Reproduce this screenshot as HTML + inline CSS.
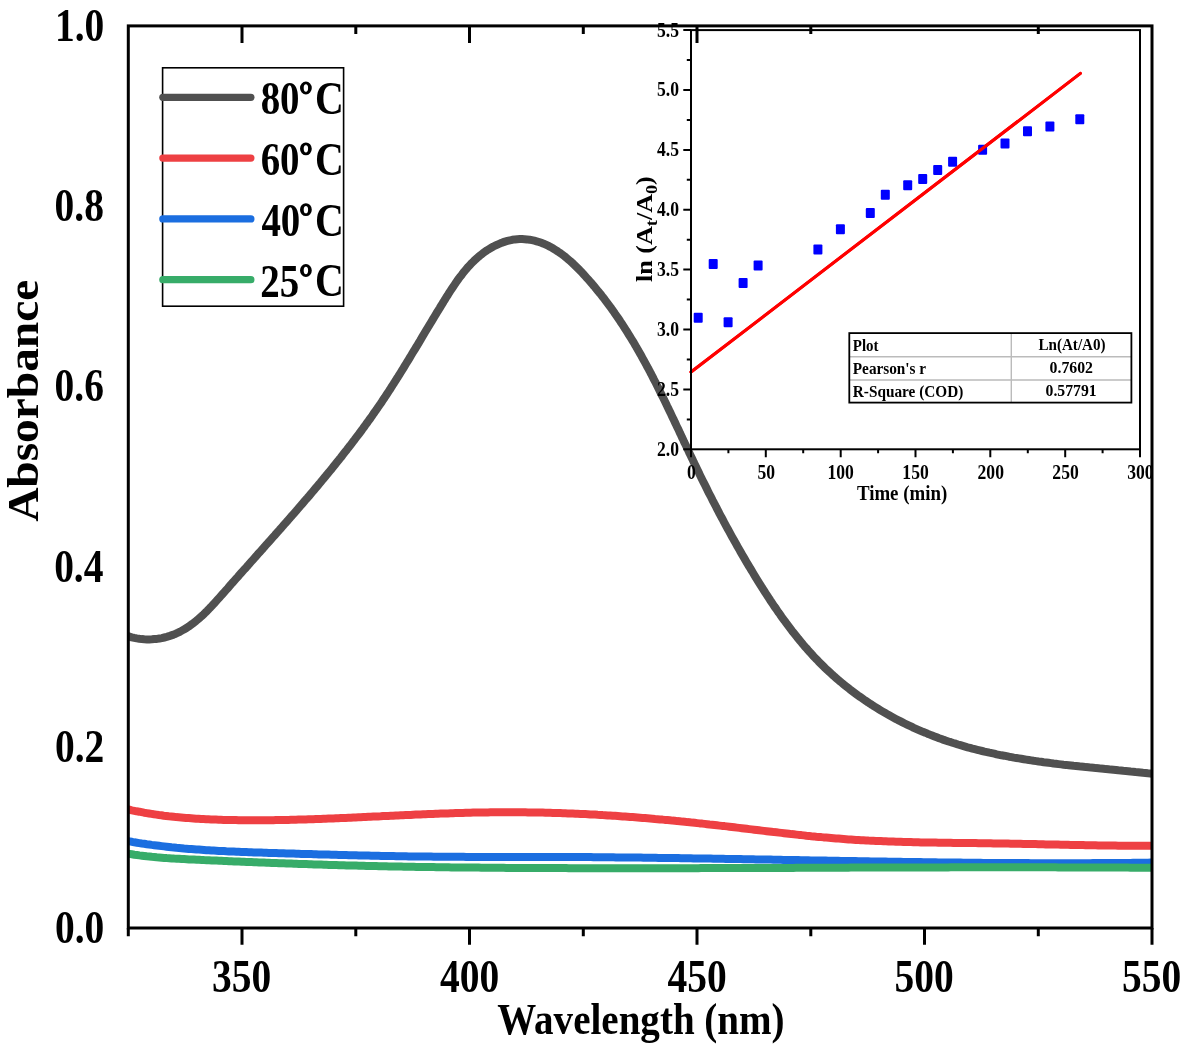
<!DOCTYPE html><html><head><meta charset="utf-8"><title>Absorbance</title><style>html,body{margin:0;padding:0;background:#fff;width:1181px;height:1049px;overflow:hidden}svg{display:block}text{font-family:"Liberation Serif",serif;font-weight:bold;fill:#000}svg{will-change:transform}</style></head><body>
<svg width="1181" height="1049" viewBox="0 0 1181 1049">
<rect width="1181" height="1049" fill="#fff"/>
<defs><clipPath id="pc"><rect x="128.3" y="0" width="1023.7" height="1049"/></clipPath></defs>
<g fill="none" stroke-width="8.0" stroke-linejoin="round" clip-path="url(#pc)">
<path d="M127.0,635.7 L129.4,636.6 L131.8,637.3 L134.3,637.9 L136.8,638.4 L139.3,638.8 L141.8,639.1 L144.3,639.3 L146.9,639.4 L149.4,639.4 L151.9,639.3 L154.4,639.1 L156.9,638.9 L159.4,638.5 L161.8,638.1 L164.3,637.5 L166.7,636.9 L169.0,636.2 L171.3,635.4 L173.6,634.6 L175.8,633.7 L178.0,632.7 L180.2,631.6 L182.3,630.4 L184.4,629.2 L186.4,628.0 L188.5,626.7 L190.4,625.3 L192.4,623.8 L194.3,622.3 L196.2,620.8 L198.1,619.2 L200.0,617.6 L201.8,616.0 L203.6,614.3 L205.4,612.5 L207.2,610.8 L208.9,609.0 L210.7,607.2 L212.4,605.3 L214.1,603.5 L215.8,601.6 L217.5,599.7 L219.2,597.8 L220.9,595.9 L222.6,594.0 L224.3,592.1 L226.0,590.2 L227.7,588.3 L229.3,586.4 L231.0,584.4 L232.7,582.5 L234.4,580.6 L236.1,578.7 L237.8,576.8 L239.4,574.9 L241.1,573.0 L242.8,571.1 L244.5,569.2 L246.2,567.4 L247.9,565.5 L249.5,563.6 L251.2,561.7 L252.9,559.8 L254.6,557.9 L256.3,556.0 L257.9,554.1 L259.6,552.3 L261.3,550.4 L263.0,548.5 L264.6,546.6 L266.3,544.7 L268.0,542.8 L269.7,541.0 L271.3,539.1 L273.0,537.2 L274.7,535.3 L276.3,533.4 L278.0,531.6 L279.7,529.7 L281.3,527.8 L283.0,525.9 L284.6,524.0 L286.3,522.2 L287.9,520.3 L289.6,518.4 L291.2,516.5 L292.9,514.6 L294.5,512.8 L296.2,510.9 L297.8,509.0 L299.4,507.1 L301.1,505.2 L302.7,503.3 L304.3,501.4 L305.9,499.5 L307.6,497.7 L309.2,495.8 L310.8,493.9 L312.4,492.0 L314.0,490.1 L315.6,488.2 L317.2,486.3 L318.8,484.4 L320.4,482.5 L322.0,480.5 L323.6,478.6 L325.2,476.7 L326.7,474.8 L328.3,472.9 L329.9,471.0 L331.5,469.1 L333.0,467.1 L334.6,465.2 L336.1,463.3 L337.7,461.3 L339.2,459.4 L340.8,457.5 L342.3,455.5 L343.8,453.6 L345.4,451.6 L346.9,449.7 L348.4,447.7 L349.9,445.8 L351.4,443.8 L352.9,441.8 L354.4,439.9 L355.9,437.9 L357.4,435.9 L358.9,434.0 L360.4,432.0 L361.9,430.0 L363.3,428.0 L364.8,426.0 L366.2,424.0 L367.7,422.0 L369.1,420.0 L370.6,418.0 L372.0,416.0 L373.4,413.9 L374.8,411.9 L376.3,409.9 L377.7,407.8 L379.1,405.8 L380.5,403.8 L381.9,401.7 L383.2,399.6 L384.6,397.6 L386.0,395.5 L387.3,393.5 L388.7,391.4 L390.1,389.3 L391.4,387.2 L392.7,385.1 L394.1,383.0 L395.4,380.9 L396.7,378.8 L398.1,376.7 L399.4,374.6 L400.7,372.5 L402.0,370.4 L403.3,368.3 L404.6,366.1 L405.9,364.0 L407.2,361.9 L408.5,359.8 L409.8,357.6 L411.1,355.5 L412.4,353.3 L413.7,351.2 L415.0,349.1 L416.3,346.9 L417.6,344.8 L418.9,342.6 L420.2,340.5 L421.4,338.3 L422.7,336.2 L424.0,334.0 L425.3,331.8 L426.6,329.7 L427.9,327.5 L429.2,325.4 L430.5,323.2 L431.8,321.1 L433.1,318.9 L434.4,316.7 L435.7,314.6 L437.0,312.4 L438.3,310.3 L439.7,308.1 L441.0,305.9 L442.3,303.8 L443.6,301.6 L445.0,299.5 L446.3,297.3 L447.7,295.2 L449.0,293.0 L450.4,290.9 L451.8,288.8 L453.2,286.7 L454.6,284.6 L456.0,282.5 L457.5,280.4 L458.9,278.4 L460.4,276.4 L462.0,274.4 L463.5,272.4 L465.1,270.5 L466.7,268.6 L468.3,266.7 L470.0,264.9 L471.7,263.1 L473.5,261.4 L475.2,259.7 L477.1,258.0 L479.0,256.4 L480.9,254.8 L482.8,253.3 L484.9,251.8 L486.9,250.4 L489.0,249.1 L491.2,247.8 L493.4,246.5 L495.7,245.4 L498.0,244.3 L500.3,243.3 L502.7,242.4 L505.0,241.6 L507.4,240.9 L509.9,240.3 L512.3,239.8 L514.8,239.4 L517.2,239.2 L519.7,239.1 L522.1,239.1 L524.6,239.2 L527.0,239.4 L529.5,239.7 L531.9,240.2 L534.3,240.7 L536.6,241.3 L539.0,242.0 L541.3,242.8 L543.6,243.7 L545.8,244.7 L548.0,245.7 L550.2,246.8 L552.4,248.0 L554.5,249.3 L556.6,250.6 L558.6,252.0 L560.7,253.4 L562.7,254.9 L564.7,256.4 L566.6,258.0 L568.6,259.7 L570.5,261.3 L572.4,263.0 L574.3,264.8 L576.1,266.6 L577.9,268.4 L579.7,270.2 L581.5,272.1 L583.3,274.0 L585.0,275.9 L586.7,277.8 L588.4,279.7 L590.1,281.6 L591.8,283.5 L593.4,285.5 L595.1,287.4 L596.7,289.4 L598.3,291.4 L599.9,293.3 L601.5,295.3 L603.0,297.3 L604.6,299.3 L606.1,301.3 L607.6,303.3 L609.1,305.3 L610.6,307.3 L612.0,309.4 L613.5,311.4 L614.9,313.5 L616.3,315.5 L617.8,317.6 L619.2,319.6 L620.5,321.7 L621.9,323.8 L623.3,325.9 L624.6,328.0 L626.0,330.1 L627.3,332.2 L628.6,334.3 L629.9,336.4 L631.2,338.5 L632.5,340.6 L633.8,342.7 L635.0,344.9 L636.3,347.0 L637.5,349.2 L638.8,351.3 L640.0,353.5 L641.2,355.6 L642.4,357.8 L643.6,359.9 L644.8,362.1 L646.0,364.3 L647.1,366.5 L648.3,368.6 L649.5,370.8 L650.6,373.0 L651.8,375.2 L652.9,377.4 L654.0,379.6 L655.2,381.8 L656.3,384.0 L657.4,386.2 L658.5,388.4 L659.6,390.6 L660.7,392.9 L661.8,395.1 L662.9,397.3 L664.0,399.5 L665.1,401.7 L666.2,404.0 L667.2,406.2 L668.3,408.4 L669.4,410.7 L670.5,412.9 L671.5,415.1 L672.6,417.4 L673.7,419.6 L674.7,421.9 L675.8,424.1 L676.8,426.3 L677.9,428.6 L679.0,430.8 L680.0,433.1 L681.1,435.3 L682.1,437.6 L683.2,439.8 L684.2,442.1 L685.3,444.3 L686.4,446.6 L687.4,448.8 L688.5,451.0 L689.5,453.3 L690.6,455.5 L691.7,457.8 L692.8,460.0 L693.8,462.3 L694.9,464.5 L696.0,466.8 L697.1,469.0 L698.2,471.2 L699.2,473.5 L700.3,475.7 L701.4,478.0 L702.5,480.2 L703.6,482.4 L704.8,484.7 L705.9,486.9 L707.0,489.1 L708.1,491.4 L709.2,493.6 L710.4,495.8 L711.5,498.0 L712.6,500.3 L713.8,502.5 L714.9,504.7 L716.1,506.9 L717.2,509.1 L718.4,511.4 L719.5,513.6 L720.7,515.8 L721.9,518.0 L723.1,520.2 L724.2,522.4 L725.4,524.6 L726.6,526.8 L727.8,529.0 L729.0,531.2 L730.2,533.4 L731.4,535.6 L732.6,537.8 L733.9,540.0 L735.1,542.2 L736.3,544.3 L737.5,546.5 L738.8,548.7 L740.0,550.9 L741.3,553.1 L742.5,555.2 L743.8,557.4 L745.1,559.6 L746.3,561.7 L747.6,563.9 L748.9,566.1 L750.2,568.2 L751.5,570.4 L752.8,572.5 L754.1,574.7 L755.4,576.8 L756.7,579.0 L758.0,581.1 L759.4,583.3 L760.7,585.4 L762.0,587.5 L763.4,589.6 L764.7,591.8 L766.1,593.9 L767.5,596.0 L768.9,598.1 L770.2,600.2 L771.6,602.3 L773.0,604.4 L774.4,606.5 L775.9,608.5 L777.3,610.6 L778.7,612.7 L780.2,614.7 L781.6,616.8 L783.1,618.8 L784.6,620.8 L786.1,622.9 L787.6,624.9 L789.1,626.9 L790.6,628.9 L792.1,630.9 L793.6,632.8 L795.2,634.8 L796.8,636.8 L798.3,638.7 L799.9,640.6 L801.5,642.5 L803.1,644.5 L804.7,646.4 L806.4,648.2 L808.0,650.1 L809.7,652.0 L811.4,653.8 L813.0,655.7 L814.7,657.5 L816.5,659.3 L818.2,661.1 L819.9,662.8 L821.7,664.6 L823.5,666.4 L825.2,668.1 L827.0,669.8 L828.9,671.5 L830.7,673.2 L832.5,674.9 L834.4,676.5 L836.3,678.2 L838.1,679.8 L840.0,681.4 L842.0,683.0 L843.9,684.6 L845.8,686.1 L847.8,687.7 L849.7,689.2 L851.7,690.7 L853.7,692.2 L855.7,693.7 L857.7,695.2 L859.7,696.6 L861.8,698.1 L863.8,699.5 L865.9,700.9 L868.0,702.3 L870.0,703.7 L872.1,705.0 L874.2,706.4 L876.3,707.7 L878.5,709.0 L880.6,710.3 L882.8,711.6 L884.9,712.8 L887.1,714.1 L889.2,715.3 L891.4,716.5 L893.6,717.7 L895.8,718.9 L898.0,720.1 L900.2,721.2 L902.5,722.4 L904.7,723.5 L907.0,724.6 L909.2,725.6 L911.5,726.7 L913.7,727.8 L916.0,728.8 L918.3,729.8 L920.6,730.8 L922.9,731.8 L925.2,732.7 L927.5,733.7 L929.8,734.6 L932.1,735.5 L934.5,736.4 L936.8,737.3 L939.1,738.2 L941.5,739.0 L943.8,739.9 L946.2,740.7 L948.5,741.5 L950.9,742.2 L953.3,743.0 L955.7,743.7 L958.0,744.5 L960.4,745.2 L962.8,745.9 L965.2,746.6 L967.6,747.3 L970.0,747.9 L972.4,748.6 L974.8,749.2 L977.3,749.8 L979.7,750.4 L982.1,751.0 L984.5,751.6 L987.0,752.1 L989.4,752.7 L991.8,753.2 L994.3,753.7 L996.7,754.3 L999.2,754.8 L1001.6,755.3 L1004.1,755.7 L1006.5,756.2 L1009.0,756.7 L1011.5,757.1 L1013.9,757.6 L1016.4,758.0 L1018.9,758.4 L1021.3,758.8 L1023.8,759.2 L1026.3,759.6 L1028.8,760.0 L1031.2,760.4 L1033.7,760.8 L1036.2,761.1 L1038.7,761.5 L1041.2,761.8 L1043.7,762.2 L1046.2,762.5 L1048.6,762.8 L1051.1,763.1 L1053.6,763.5 L1056.1,763.8 L1058.6,764.1 L1061.1,764.4 L1063.6,764.7 L1066.1,764.9 L1068.6,765.2 L1071.1,765.5 L1073.6,765.8 L1076.1,766.0 L1078.6,766.3 L1081.0,766.6 L1083.5,766.8 L1086.0,767.1 L1088.5,767.3 L1091.0,767.6 L1093.5,767.8 L1096.0,768.1 L1098.5,768.3 L1101.0,768.6 L1103.5,768.8 L1105.9,769.1 L1108.4,769.3 L1110.9,769.6 L1113.4,769.8 L1115.9,770.0 L1118.3,770.3 L1120.8,770.5 L1123.3,770.8 L1125.8,771.0 L1128.2,771.2 L1130.7,771.5 L1133.2,771.7 L1135.6,772.0 L1138.1,772.2 L1140.5,772.5 L1143.0,772.8 L1145.4,773.0 L1147.9,773.3 L1150.3,773.5 L1152.8,773.8" stroke="#505050"/>
<path d="M127.0,809.2 L129.4,809.7 L131.8,810.3 L134.3,810.8 L136.7,811.3 L139.2,811.7 L141.6,812.2 L144.1,812.7 L146.6,813.1 L149.0,813.5 L151.5,813.9 L153.9,814.3 L156.4,814.6 L158.9,815.0 L161.4,815.3 L163.8,815.7 L166.3,816.0 L168.8,816.3 L171.2,816.5 L173.7,816.8 L176.2,817.1 L178.7,817.3 L181.2,817.5 L183.6,817.7 L186.1,817.9 L188.6,818.1 L191.1,818.3 L193.6,818.5 L196.1,818.7 L198.6,818.8 L201.0,819.0 L203.5,819.1 L206.0,819.2 L208.5,819.3 L211.0,819.4 L213.5,819.5 L216.0,819.6 L218.5,819.7 L221.0,819.8 L223.5,819.9 L226.0,819.9 L228.5,820.0 L231.0,820.1 L233.5,820.1 L236.0,820.1 L238.4,820.2 L240.9,820.2 L243.4,820.2 L245.9,820.3 L248.4,820.3 L250.9,820.3 L253.4,820.3 L255.9,820.3 L258.4,820.3 L260.9,820.3 L263.4,820.3 L265.9,820.2 L268.4,820.2 L270.9,820.2 L273.4,820.2 L275.9,820.1 L278.4,820.1 L280.9,820.0 L283.4,820.0 L285.9,819.9 L288.4,819.9 L290.9,819.8 L293.4,819.8 L295.9,819.7 L298.4,819.6 L300.9,819.6 L303.4,819.5 L305.9,819.4 L308.4,819.3 L310.8,819.3 L313.3,819.2 L315.8,819.1 L318.3,819.0 L320.8,818.9 L323.3,818.8 L325.8,818.7 L328.3,818.6 L330.8,818.5 L333.3,818.4 L335.8,818.3 L338.3,818.2 L340.8,818.1 L343.3,818.0 L345.8,817.9 L348.3,817.8 L350.8,817.7 L353.3,817.5 L355.8,817.4 L358.3,817.3 L360.8,817.2 L363.3,817.1 L365.7,817.0 L368.2,816.8 L370.7,816.7 L373.2,816.6 L375.7,816.5 L378.2,816.4 L380.7,816.3 L383.2,816.1 L385.7,816.0 L388.2,815.9 L390.7,815.8 L393.2,815.7 L395.7,815.5 L398.2,815.4 L400.7,815.3 L403.1,815.2 L405.6,815.1 L408.1,815.0 L410.6,814.9 L413.1,814.7 L415.6,814.6 L418.1,814.5 L420.6,814.4 L423.1,814.3 L425.6,814.2 L428.1,814.1 L430.6,814.0 L433.1,813.9 L435.5,813.8 L438.0,813.7 L440.5,813.6 L443.0,813.5 L445.5,813.4 L448.0,813.4 L450.5,813.3 L453.0,813.2 L455.5,813.1 L458.0,813.0 L460.5,813.0 L463.0,812.9 L465.5,812.8 L468.0,812.8 L470.5,812.7 L473.0,812.6 L475.4,812.6 L477.9,812.5 L480.4,812.5 L482.9,812.5 L485.4,812.4 L487.9,812.4 L490.4,812.3 L492.9,812.3 L495.4,812.3 L497.9,812.3 L500.4,812.3 L502.9,812.3 L505.4,812.2 L507.9,812.2 L510.4,812.2 L512.9,812.2 L515.4,812.3 L517.9,812.3 L520.4,812.3 L522.9,812.3 L525.4,812.3 L527.9,812.4 L530.4,812.4 L532.9,812.4 L535.4,812.5 L537.8,812.5 L540.3,812.6 L542.8,812.6 L545.3,812.7 L547.8,812.7 L550.3,812.8 L552.8,812.9 L555.3,812.9 L557.8,813.0 L560.3,813.1 L562.8,813.2 L565.3,813.3 L567.8,813.4 L570.3,813.5 L572.8,813.6 L575.3,813.7 L577.8,813.8 L580.3,813.9 L582.8,814.0 L585.3,814.1 L587.8,814.2 L590.3,814.4 L592.8,814.5 L595.2,814.6 L597.7,814.8 L600.2,814.9 L602.7,815.1 L605.2,815.2 L607.7,815.4 L610.2,815.5 L612.7,815.7 L615.2,815.8 L617.7,816.0 L620.2,816.2 L622.6,816.4 L625.1,816.5 L627.6,816.7 L630.1,816.9 L632.6,817.1 L635.1,817.3 L637.6,817.5 L640.1,817.7 L642.6,817.9 L645.0,818.1 L647.5,818.3 L650.0,818.5 L652.5,818.7 L655.0,819.0 L657.5,819.2 L660.0,819.4 L662.4,819.6 L664.9,819.9 L667.4,820.1 L669.9,820.3 L672.4,820.6 L674.9,820.8 L677.3,821.1 L679.8,821.3 L682.3,821.6 L684.8,821.8 L687.3,822.1 L689.7,822.3 L692.2,822.6 L694.7,822.8 L697.2,823.1 L699.7,823.4 L702.2,823.6 L704.6,823.9 L707.1,824.2 L709.6,824.5 L712.1,824.7 L714.6,825.0 L717.0,825.3 L719.5,825.6 L722.0,825.9 L724.5,826.1 L727.0,826.4 L729.4,826.7 L731.9,827.0 L734.4,827.3 L736.9,827.6 L739.3,827.9 L741.8,828.2 L744.3,828.5 L746.8,828.8 L749.3,829.1 L751.7,829.4 L754.2,829.7 L756.7,830.0 L759.2,830.3 L761.7,830.6 L764.1,830.9 L766.6,831.2 L769.1,831.5 L771.6,831.8 L774.1,832.1 L776.5,832.3 L779.0,832.6 L781.5,832.9 L784.0,833.2 L786.5,833.5 L788.9,833.8 L791.4,834.1 L793.9,834.3 L796.4,834.6 L798.9,834.9 L801.3,835.1 L803.8,835.4 L806.3,835.7 L808.8,835.9 L811.3,836.2 L813.8,836.4 L816.2,836.7 L818.7,836.9 L821.2,837.1 L823.7,837.4 L826.2,837.6 L828.7,837.8 L831.1,838.0 L833.6,838.2 L836.1,838.4 L838.6,838.6 L841.1,838.8 L843.6,839.0 L846.1,839.2 L848.5,839.4 L851.0,839.5 L853.5,839.7 L856.0,839.9 L858.5,840.0 L861.0,840.2 L863.5,840.3 L866.0,840.4 L868.5,840.6 L871.0,840.7 L873.4,840.8 L875.9,840.9 L878.4,841.0 L880.9,841.1 L883.4,841.2 L885.9,841.3 L888.4,841.4 L890.9,841.5 L893.4,841.6 L895.9,841.7 L898.4,841.8 L900.9,841.8 L903.4,841.9 L905.9,842.0 L908.4,842.1 L910.9,842.1 L913.4,842.2 L915.9,842.2 L918.3,842.3 L920.8,842.4 L923.3,842.4 L925.8,842.5 L928.3,842.5 L930.8,842.5 L933.3,842.6 L935.8,842.6 L938.3,842.7 L940.8,842.7 L943.3,842.7 L945.8,842.8 L948.3,842.8 L950.8,842.8 L953.3,842.9 L955.8,842.9 L958.3,842.9 L960.8,843.0 L963.3,843.0 L965.8,843.0 L968.3,843.1 L970.8,843.1 L973.3,843.1 L975.8,843.1 L978.3,843.2 L980.8,843.2 L983.3,843.2 L985.8,843.3 L988.3,843.3 L990.8,843.3 L993.3,843.4 L995.8,843.4 L998.3,843.4 L1000.8,843.5 L1003.3,843.5 L1005.7,843.6 L1008.2,843.6 L1010.7,843.7 L1013.2,843.7 L1015.7,843.7 L1018.2,843.8 L1020.7,843.8 L1023.2,843.9 L1025.7,843.9 L1028.2,844.0 L1030.7,844.0 L1033.2,844.1 L1035.7,844.1 L1038.2,844.2 L1040.7,844.2 L1043.2,844.3 L1045.7,844.4 L1048.2,844.4 L1050.7,844.5 L1053.2,844.5 L1055.7,844.6 L1058.2,844.6 L1060.6,844.7 L1063.1,844.7 L1065.6,844.8 L1068.1,844.8 L1070.6,844.9 L1073.1,844.9 L1075.6,845.0 L1078.1,845.0 L1080.6,845.1 L1083.1,845.1 L1085.6,845.2 L1088.1,845.2 L1090.6,845.3 L1093.1,845.3 L1095.6,845.3 L1098.1,845.4 L1100.6,845.4 L1103.1,845.5 L1105.6,845.5 L1108.1,845.5 L1110.5,845.6 L1113.0,845.6 L1115.5,845.6 L1118.0,845.7 L1120.5,845.7 L1123.0,845.7 L1125.5,845.7 L1128.0,845.7 L1130.5,845.8 L1133.0,845.8 L1135.5,845.8 L1138.0,845.8 L1140.5,845.8 L1143.0,845.8 L1145.5,845.8 L1148.0,845.8 L1150.5,845.8 L1153.0,845.8" stroke="#EE4043"/>
<path d="M127.0,841.0 L129.5,841.4 L131.9,841.8 L134.4,842.3 L136.9,842.7 L139.3,843.1 L141.8,843.5 L144.3,843.8 L146.8,844.2 L149.2,844.5 L151.7,844.9 L154.2,845.2 L156.7,845.5 L159.1,845.8 L161.6,846.1 L164.1,846.4 L166.6,846.7 L169.1,847.0 L171.5,847.3 L174.0,847.5 L176.5,847.8 L179.0,848.0 L181.5,848.2 L184.0,848.5 L186.4,848.7 L188.9,848.9 L191.4,849.1 L193.9,849.3 L196.4,849.5 L198.9,849.6 L201.4,849.8 L203.9,850.0 L206.4,850.2 L208.9,850.3 L211.3,850.5 L213.8,850.6 L216.3,850.7 L218.8,850.9 L221.3,851.0 L223.8,851.1 L226.3,851.3 L228.8,851.4 L231.3,851.5 L233.8,851.6 L236.3,851.7 L238.8,851.8 L241.3,851.9 L243.8,852.0 L246.3,852.1 L248.8,852.2 L251.3,852.3 L253.8,852.4 L256.3,852.5 L258.8,852.5 L261.3,852.6 L263.8,852.7 L266.3,852.8 L268.8,852.9 L271.2,852.9 L273.7,853.0 L276.2,853.1 L278.7,853.2 L281.2,853.2 L283.7,853.3 L286.2,853.4 L288.7,853.5 L291.2,853.6 L293.7,853.6 L296.2,853.7 L298.7,853.8 L301.2,853.9 L303.7,853.9 L306.2,854.0 L308.7,854.1 L311.2,854.1 L313.7,854.2 L316.2,854.3 L318.7,854.4 L321.2,854.4 L323.7,854.5 L326.2,854.6 L328.7,854.6 L331.2,854.7 L333.7,854.8 L336.2,854.8 L338.7,854.9 L341.2,855.0 L343.7,855.0 L346.2,855.1 L348.7,855.2 L351.2,855.2 L353.7,855.3 L356.2,855.3 L358.7,855.4 L361.2,855.5 L363.7,855.5 L366.2,855.6 L368.6,855.6 L371.1,855.7 L373.6,855.7 L376.1,855.8 L378.6,855.8 L381.1,855.9 L383.6,855.9 L386.1,856.0 L388.6,856.0 L391.1,856.1 L393.6,856.1 L396.1,856.2 L398.6,856.2 L401.1,856.2 L403.6,856.3 L406.1,856.3 L408.6,856.4 L411.1,856.4 L413.6,856.4 L416.1,856.5 L418.6,856.5 L421.1,856.5 L423.6,856.6 L426.1,856.6 L428.6,856.6 L431.1,856.6 L433.6,856.7 L436.1,856.7 L438.6,856.7 L441.1,856.7 L443.6,856.7 L446.1,856.8 L448.6,856.8 L451.1,856.8 L453.6,856.8 L456.1,856.8 L458.6,856.8 L461.1,856.8 L463.6,856.8 L466.1,856.9 L468.6,856.9 L471.0,856.9 L473.5,856.9 L476.0,856.9 L478.5,856.9 L481.0,856.9 L483.5,856.9 L486.0,856.9 L488.5,856.9 L491.0,856.9 L493.5,856.9 L496.0,856.9 L498.5,856.9 L501.0,856.9 L503.5,856.9 L506.0,856.9 L508.5,856.9 L511.0,856.9 L513.5,856.9 L516.0,856.9 L518.5,856.9 L521.0,856.9 L523.5,856.9 L526.0,856.9 L528.5,856.9 L531.0,856.9 L533.5,856.9 L536.0,856.9 L538.5,856.9 L541.0,856.9 L543.5,856.9 L546.0,856.9 L548.5,856.9 L551.0,856.9 L553.5,856.9 L556.0,856.9 L558.5,857.0 L561.0,857.0 L563.5,857.0 L566.0,857.0 L568.5,857.0 L571.0,857.0 L573.5,857.0 L576.0,857.0 L578.5,857.1 L581.0,857.1 L583.5,857.1 L586.0,857.1 L588.5,857.1 L590.9,857.1 L593.4,857.2 L595.9,857.2 L598.4,857.2 L600.9,857.2 L603.4,857.2 L605.9,857.3 L608.4,857.3 L610.9,857.3 L613.4,857.3 L615.9,857.4 L618.4,857.4 L620.9,857.4 L623.4,857.4 L625.9,857.5 L628.4,857.5 L630.9,857.5 L633.4,857.5 L635.9,857.6 L638.4,857.6 L640.9,857.6 L643.4,857.7 L645.9,857.7 L648.4,857.7 L650.9,857.8 L653.4,857.8 L655.9,857.8 L658.4,857.9 L660.9,857.9 L663.4,857.9 L665.9,858.0 L668.4,858.0 L670.9,858.0 L673.4,858.1 L675.9,858.1 L678.4,858.1 L680.9,858.2 L683.4,858.2 L685.9,858.2 L688.4,858.3 L690.9,858.3 L693.4,858.4 L695.9,858.4 L698.4,858.4 L700.9,858.5 L703.4,858.5 L705.9,858.5 L708.3,858.6 L710.8,858.6 L713.3,858.7 L715.8,858.7 L718.3,858.7 L720.8,858.8 L723.3,858.8 L725.8,858.9 L728.3,858.9 L730.8,859.0 L733.3,859.0 L735.8,859.0 L738.3,859.1 L740.8,859.1 L743.3,859.2 L745.8,859.2 L748.3,859.3 L750.8,859.3 L753.3,859.3 L755.8,859.4 L758.3,859.4 L760.8,859.5 L763.3,859.5 L765.8,859.6 L768.3,859.6 L770.8,859.6 L773.3,859.7 L775.8,859.7 L778.3,859.8 L780.8,859.8 L783.3,859.9 L785.8,859.9 L788.3,860.0 L790.8,860.0 L793.3,860.0 L795.8,860.1 L798.3,860.1 L800.8,860.2 L803.3,860.2 L805.8,860.3 L808.3,860.3 L810.8,860.4 L813.3,860.4 L815.8,860.4 L818.3,860.5 L820.8,860.5 L823.3,860.6 L825.8,860.6 L828.2,860.7 L830.7,860.7 L833.2,860.7 L835.7,860.8 L838.2,860.8 L840.7,860.9 L843.2,860.9 L845.7,861.0 L848.2,861.0 L850.7,861.0 L853.2,861.1 L855.7,861.1 L858.2,861.2 L860.7,861.2 L863.2,861.3 L865.7,861.3 L868.2,861.3 L870.7,861.4 L873.2,861.4 L875.7,861.5 L878.2,861.5 L880.7,861.5 L883.2,861.6 L885.7,861.6 L888.2,861.7 L890.7,861.7 L893.2,861.7 L895.7,861.8 L898.2,861.8 L900.7,861.8 L903.2,861.9 L905.7,861.9 L908.2,862.0 L910.7,862.0 L913.2,862.0 L915.7,862.1 L918.2,862.1 L920.7,862.1 L923.2,862.2 L925.7,862.2 L928.2,862.2 L930.7,862.3 L933.2,862.3 L935.7,862.3 L938.2,862.4 L940.7,862.4 L943.2,862.4 L945.7,862.5 L948.1,862.5 L950.6,862.5 L953.1,862.5 L955.6,862.6 L958.1,862.6 L960.6,862.6 L963.1,862.7 L965.6,862.7 L968.1,862.7 L970.6,862.7 L973.1,862.8 L975.6,862.8 L978.1,862.8 L980.6,862.8 L983.1,862.9 L985.6,862.9 L988.1,862.9 L990.6,862.9 L993.1,862.9 L995.6,863.0 L998.1,863.0 L1000.6,863.0 L1003.1,863.0 L1005.6,863.0 L1008.1,863.0 L1010.6,863.1 L1013.1,863.1 L1015.6,863.1 L1018.1,863.1 L1020.6,863.1 L1023.1,863.1 L1025.6,863.1 L1028.1,863.1 L1030.6,863.2 L1033.1,863.2 L1035.6,863.2 L1038.1,863.2 L1040.6,863.2 L1043.1,863.2 L1045.6,863.2 L1048.1,863.2 L1050.6,863.2 L1053.1,863.2 L1055.6,863.2 L1058.1,863.2 L1060.6,863.2 L1063.1,863.2 L1065.6,863.2 L1068.1,863.2 L1070.6,863.2 L1073.1,863.2 L1075.6,863.2 L1078.1,863.2 L1080.5,863.2 L1083.0,863.2 L1085.5,863.2 L1088.0,863.2 L1090.5,863.2 L1093.0,863.1 L1095.5,863.1 L1098.0,863.1 L1100.5,863.1 L1103.0,863.1 L1105.5,863.1 L1108.0,863.1 L1110.5,863.0 L1113.0,863.0 L1115.5,863.0 L1118.0,863.0 L1120.5,863.0 L1123.0,862.9 L1125.5,862.9 L1128.0,862.9 L1130.5,862.9 L1133.0,862.8 L1135.5,862.8 L1138.0,862.8 L1140.5,862.8 L1143.0,862.7 L1145.5,862.7 L1148.0,862.7 L1150.5,862.6 L1153.0,862.6" stroke="#1B6EE0"/>
<path d="M127.0,853.5 L129.5,853.9 L131.9,854.3 L134.4,854.7 L136.9,855.0 L139.4,855.4 L141.9,855.7 L144.3,856.0 L146.8,856.3 L149.3,856.5 L151.8,856.8 L154.3,857.0 L156.7,857.3 L159.2,857.5 L161.7,857.7 L164.2,857.9 L166.7,858.1 L169.2,858.2 L171.7,858.4 L174.2,858.6 L176.7,858.7 L179.1,858.8 L181.6,859.0 L184.1,859.1 L186.6,859.2 L189.1,859.4 L191.6,859.5 L194.1,859.6 L196.6,859.7 L199.1,859.8 L201.6,859.9 L204.1,860.1 L206.6,860.2 L209.1,860.3 L211.6,860.4 L214.1,860.5 L216.6,860.6 L219.1,860.7 L221.5,860.8 L224.0,860.9 L226.5,861.0 L229.0,861.2 L231.5,861.3 L234.0,861.4 L236.5,861.5 L239.0,861.6 L241.5,861.7 L244.0,861.8 L246.5,861.9 L249.0,862.0 L251.5,862.1 L254.0,862.2 L256.5,862.3 L259.0,862.4 L261.5,862.5 L264.0,862.6 L266.5,862.7 L269.0,862.8 L271.5,862.9 L274.0,863.0 L276.4,863.1 L278.9,863.2 L281.4,863.3 L283.9,863.3 L286.4,863.4 L288.9,863.5 L291.4,863.6 L293.9,863.7 L296.4,863.8 L298.9,863.9 L301.4,864.0 L303.9,864.1 L306.4,864.1 L308.9,864.2 L311.4,864.3 L313.9,864.4 L316.4,864.5 L318.9,864.6 L321.4,864.6 L323.9,864.7 L326.4,864.8 L328.9,864.9 L331.4,864.9 L333.9,865.0 L336.4,865.1 L338.9,865.2 L341.4,865.2 L343.9,865.3 L346.4,865.4 L348.8,865.4 L351.3,865.5 L353.8,865.6 L356.3,865.6 L358.8,865.7 L361.3,865.8 L363.8,865.8 L366.3,865.9 L368.8,865.9 L371.3,866.0 L373.8,866.0 L376.3,866.1 L378.8,866.2 L381.3,866.2 L383.8,866.3 L386.3,866.3 L388.8,866.4 L391.3,866.4 L393.8,866.5 L396.3,866.5 L398.8,866.6 L401.3,866.6 L403.8,866.7 L406.3,866.7 L408.8,866.7 L411.3,866.8 L413.8,866.8 L416.3,866.9 L418.8,866.9 L421.3,866.9 L423.8,867.0 L426.2,867.0 L428.7,867.1 L431.2,867.1 L433.7,867.1 L436.2,867.2 L438.7,867.2 L441.2,867.2 L443.7,867.3 L446.2,867.3 L448.7,867.3 L451.2,867.4 L453.7,867.4 L456.2,867.4 L458.7,867.4 L461.2,867.5 L463.7,867.5 L466.2,867.5 L468.7,867.6 L471.2,867.6 L473.7,867.6 L476.2,867.6 L478.7,867.6 L481.2,867.7 L483.7,867.7 L486.2,867.7 L488.7,867.7 L491.2,867.8 L493.7,867.8 L496.2,867.8 L498.7,867.8 L501.2,867.8 L503.7,867.8 L506.2,867.9 L508.7,867.9 L511.1,867.9 L513.6,867.9 L516.1,867.9 L518.6,867.9 L521.1,868.0 L523.6,868.0 L526.1,868.0 L528.6,868.0 L531.1,868.0 L533.6,868.0 L536.1,868.0 L538.6,868.0 L541.1,868.1 L543.6,868.1 L546.1,868.1 L548.6,868.1 L551.1,868.1 L553.6,868.1 L556.1,868.1 L558.6,868.1 L561.1,868.1 L563.6,868.1 L566.1,868.1 L568.6,868.2 L571.1,868.2 L573.6,868.2 L576.1,868.2 L578.6,868.2 L581.1,868.2 L583.6,868.2 L586.1,868.2 L588.6,868.2 L591.1,868.2 L593.6,868.2 L596.1,868.2 L598.6,868.2 L601.0,868.2 L603.5,868.2 L606.0,868.2 L608.5,868.2 L611.0,868.2 L613.5,868.2 L616.0,868.2 L618.5,868.2 L621.0,868.2 L623.5,868.2 L626.0,868.2 L628.5,868.2 L631.0,868.2 L633.5,868.2 L636.0,868.2 L638.5,868.2 L641.0,868.2 L643.5,868.2 L646.0,868.2 L648.5,868.2 L651.0,868.2 L653.5,868.2 L656.0,868.2 L658.5,868.2 L661.0,868.2 L663.5,868.2 L666.0,868.2 L668.5,868.2 L671.0,868.2 L673.5,868.2 L676.0,868.2 L678.5,868.2 L681.0,868.2 L683.5,868.2 L686.0,868.2 L688.5,868.2 L691.0,868.2 L693.5,868.2 L696.0,868.2 L698.5,868.2 L700.9,868.1 L703.4,868.1 L705.9,868.1 L708.4,868.1 L710.9,868.1 L713.4,868.1 L715.9,868.1 L718.4,868.1 L720.9,868.1 L723.4,868.1 L725.9,868.1 L728.4,868.1 L730.9,868.1 L733.4,868.1 L735.9,868.1 L738.4,868.0 L740.9,868.0 L743.4,868.0 L745.9,868.0 L748.4,868.0 L750.9,868.0 L753.4,868.0 L755.9,868.0 L758.4,868.0 L760.9,868.0 L763.4,868.0 L765.9,868.0 L768.4,867.9 L770.9,867.9 L773.4,867.9 L775.9,867.9 L778.4,867.9 L780.9,867.9 L783.4,867.9 L785.9,867.9 L788.4,867.9 L790.9,867.9 L793.4,867.9 L795.9,867.8 L798.4,867.8 L800.9,867.8 L803.4,867.8 L805.8,867.8 L808.3,867.8 L810.8,867.8 L813.3,867.8 L815.8,867.8 L818.3,867.8 L820.8,867.8 L823.3,867.7 L825.8,867.7 L828.3,867.7 L830.8,867.7 L833.3,867.7 L835.8,867.7 L838.3,867.7 L840.8,867.7 L843.3,867.7 L845.8,867.7 L848.3,867.7 L850.8,867.6 L853.3,867.6 L855.8,867.6 L858.3,867.6 L860.8,867.6 L863.3,867.6 L865.8,867.6 L868.3,867.6 L870.8,867.6 L873.3,867.6 L875.8,867.6 L878.3,867.5 L880.8,867.5 L883.3,867.5 L885.8,867.5 L888.3,867.5 L890.8,867.5 L893.3,867.5 L895.8,867.5 L898.3,867.5 L900.8,867.5 L903.3,867.5 L905.8,867.5 L908.3,867.5 L910.8,867.4 L913.2,867.4 L915.7,867.4 L918.2,867.4 L920.7,867.4 L923.2,867.4 L925.7,867.4 L928.2,867.4 L930.7,867.4 L933.2,867.4 L935.7,867.4 L938.2,867.4 L940.7,867.4 L943.2,867.4 L945.7,867.4 L948.2,867.4 L950.7,867.3 L953.2,867.3 L955.7,867.3 L958.2,867.3 L960.7,867.3 L963.2,867.3 L965.7,867.3 L968.2,867.3 L970.7,867.3 L973.2,867.3 L975.7,867.3 L978.2,867.3 L980.7,867.3 L983.2,867.3 L985.7,867.3 L988.2,867.3 L990.7,867.3 L993.2,867.3 L995.7,867.3 L998.2,867.3 L1000.7,867.3 L1003.2,867.3 L1005.7,867.3 L1008.2,867.3 L1010.7,867.3 L1013.1,867.3 L1015.6,867.3 L1018.1,867.3 L1020.6,867.3 L1023.1,867.3 L1025.6,867.3 L1028.1,867.3 L1030.6,867.3 L1033.1,867.3 L1035.6,867.3 L1038.1,867.3 L1040.6,867.3 L1043.1,867.3 L1045.6,867.3 L1048.1,867.3 L1050.6,867.3 L1053.1,867.3 L1055.6,867.3 L1058.1,867.4 L1060.6,867.4 L1063.1,867.4 L1065.6,867.4 L1068.1,867.4 L1070.6,867.4 L1073.1,867.4 L1075.6,867.4 L1078.1,867.4 L1080.6,867.4 L1083.1,867.4 L1085.6,867.4 L1088.1,867.4 L1090.6,867.5 L1093.1,867.5 L1095.6,867.5 L1098.1,867.5 L1100.6,867.5 L1103.1,867.5 L1105.6,867.5 L1108.1,867.5 L1110.5,867.5 L1113.0,867.6 L1115.5,867.6 L1118.0,867.6 L1120.5,867.6 L1123.0,867.6 L1125.5,867.6 L1128.0,867.6 L1130.5,867.7 L1133.0,867.7 L1135.5,867.7 L1138.0,867.7 L1140.5,867.7 L1143.0,867.8 L1145.5,867.8 L1148.0,867.8 L1150.5,867.8 L1153.0,867.8" stroke="#37AC69"/>
</g>
<g clip-path="url(#pc)">
<line x1="691.0" y1="372.0" x2="1080.4" y2="73.4" stroke="#FF0000" stroke-width="3" stroke-linecap="round"/>
<g fill="#0000FF"><rect x="693.7" y="312.8" width="9" height="10" rx="1"/><rect x="708.7" y="258.9" width="9" height="10" rx="1"/><rect x="723.6" y="317.3" width="9" height="10" rx="1"/><rect x="738.6" y="277.9" width="9" height="10" rx="1"/><rect x="753.6" y="260.5" width="9" height="10" rx="1"/><rect x="813.4" y="244.4" width="9" height="10" rx="1"/><rect x="835.9" y="224.2" width="9" height="10" rx="1"/><rect x="865.8" y="207.9" width="9" height="10" rx="1"/><rect x="880.8" y="189.8" width="9" height="10" rx="1"/><rect x="903.2" y="180.3" width="9" height="10" rx="1"/><rect x="918.2" y="173.9" width="9" height="10" rx="1"/><rect x="933.2" y="164.9" width="9" height="10" rx="1"/><rect x="948.1" y="156.7" width="9" height="10" rx="1"/><rect x="978.1" y="144.8" width="9" height="10" rx="1"/><rect x="1000.5" y="138.6" width="9" height="10" rx="1"/><rect x="1023.0" y="126.3" width="9" height="10" rx="1"/><rect x="1045.4" y="121.6" width="9" height="10" rx="1"/><rect x="1075.3" y="114.3" width="9" height="10" rx="1"/></g>
<line x1="691.0" y1="372.0" x2="1080.4" y2="73.4" stroke="#FF0000" stroke-width="3" stroke-linecap="round"/>
<rect x="691.0" y="30.1" width="449.0" height="419.2" fill="none" stroke="#000" stroke-width="2"/>
<path d="M691.0,449.3v8 M728.4,449.3v4 M765.8,449.3v8 M803.2,449.3v4 M840.7,449.3v8 M878.1,449.3v4 M915.5,449.3v8 M952.9,449.3v4 M990.3,449.3v8 M1027.8,449.3v4 M1065.2,449.3v8 M1102.6,449.3v4 M1140.0,449.3v8 M691.0,449.3h-7.7 M691.0,419.4h-4.2 M691.0,389.4h-7.7 M691.0,359.5h-4.2 M691.0,329.5h-7.7 M691.0,299.6h-4.2 M691.0,269.6h-7.7 M691.0,239.7h-4.2 M691.0,209.8h-7.7 M691.0,179.8h-4.2 M691.0,149.9h-7.7 M691.0,119.9h-4.2 M691.0,90.0h-7.7 M691.0,60.0h-4.2 M691.0,30.1h-7.7" stroke="#000" stroke-width="2" fill="none"/>
</g>
<g clip-path="url(#pc)">
<text transform="translate(657.00,455.69) scale(0.8674,1)" font-size="20.30">2.0</text>
<text transform="translate(657.00,396.01) scale(0.8674,1)" font-size="20.30">2.5</text>
<text transform="translate(657.00,335.92) scale(0.8674,1)" font-size="20.30">3.0</text>
<text transform="translate(657.00,276.04) scale(0.8674,1)" font-size="20.30">3.5</text>
<text transform="translate(657.00,216.15) scale(0.8674,1)" font-size="20.30">4.0</text>
<text transform="translate(657.00,156.47) scale(0.8674,1)" font-size="20.30">4.5</text>
<text transform="translate(657.00,96.38) scale(0.8674,1)" font-size="20.30">5.0</text>
<text transform="translate(657.00,36.70) scale(0.8674,1)" font-size="20.30">5.5</text>
<text transform="translate(687.00,478.99) scale(0.8674,1)" font-size="20.30">0</text>
<text transform="translate(757.43,478.99) scale(0.8674,1)" font-size="20.30">50</text>
<text transform="translate(827.51,478.99) scale(0.8674,1)" font-size="20.30">100</text>
<text transform="translate(902.34,478.99) scale(0.8674,1)" font-size="20.30">150</text>
<text transform="translate(977.53,478.99) scale(0.8674,1)" font-size="20.30">200</text>
<text transform="translate(1052.36,478.99) scale(0.8674,1)" font-size="20.30">250</text>
<text transform="translate(1127.19,478.99) scale(0.8674,1)" font-size="20.30">300</text>
<text transform="translate(856.92,500.07) scale(0.8942,1)" font-size="21.11">Time (min)</text>
<text transform="translate(651.79,281.92) rotate(-90) scale(1.1612,1)" font-size="22.45">ln (A<tspan style="font-size:70%" dy="0.36em">t</tspan><tspan dy="-0.252em">/A</tspan><tspan style="font-size:70%" dy="0.36em">0</tspan><tspan dy="-0.252em">)</tspan></text>
</g>
<g>
<path d="M1011.3,333.1V402.6 M849.3,356.8H1131.4 M849.3,380.0H1131.4" stroke="#BBBBBB" stroke-width="1.4" fill="none"/>
<rect x="849.3" y="333.1" width="282.1" height="69.5" fill="none" stroke="#000" stroke-width="1.8"/>
<text transform="translate(852.80,350.80) scale(0.8789,1)" font-size="17.00">Plot</text>
<text transform="translate(852.79,373.90) scale(0.8984,1)" font-size="17.00">Pearson's r</text>
<text transform="translate(852.79,397.10) scale(0.9008,1)" font-size="17.00">R-Square (COD)</text>
<text transform="translate(1038.40,349.70) scale(0.8904,1)" font-size="17.00">Ln(At/A0)</text>
<text transform="translate(1049.57,372.90) scale(0.9297,1)" font-size="17.00">0.7602</text>
<text transform="translate(1045.57,395.90) scale(0.9252,1)" font-size="17.00">0.57791</text>
</g>
<rect x="128.3" y="25.9" width="1023.7" height="902.1" fill="none" stroke="#000" stroke-width="3"/>
<path d="M128.3,928.0v8.3 M242.0,928.0v16.7 M242.0,25.9v17.0 M355.8,928.0v8.3 M355.8,25.9v8.2 M469.5,928.0v16.7 M469.5,25.9v17.0 M583.3,928.0v8.3 M583.3,25.9v8.2 M697.0,928.0v16.7 M697.0,25.9v17.0 M810.8,928.0v8.3 M810.8,25.9v8.2 M924.5,928.0v16.7 M1038.3,928.0v8.3 M1038.3,25.9v8.2 M1152.0,928.0v16.7" stroke="#000" stroke-width="3" fill="none"/>
<text transform="translate(54.92,942.63) scale(0.8563,1)" font-size="46.12">0.0</text>
<text transform="translate(54.92,762.21) scale(0.8563,1)" font-size="46.12">0.2</text>
<text transform="translate(54.13,581.79) scale(0.8563,1)" font-size="46.12">0.4</text>
<text transform="translate(54.52,401.37) scale(0.8563,1)" font-size="46.12">0.6</text>
<text transform="translate(54.52,220.95) scale(0.8563,1)" font-size="46.12">0.8</text>
<text transform="translate(54.92,40.53) scale(0.8563,1)" font-size="46.12">1.0</text>
<text transform="translate(212.03,991.68) scale(0.8563,1)" font-size="46.12">350</text>
<text transform="translate(440.11,991.68) scale(0.8563,1)" font-size="46.12">400</text>
<text transform="translate(667.60,991.68) scale(0.8563,1)" font-size="46.12">450</text>
<text transform="translate(894.49,991.68) scale(0.8563,1)" font-size="46.12">500</text>
<text transform="translate(1121.98,991.68) scale(0.8563,1)" font-size="46.12">550</text>
<text transform="translate(497.21,1034.08) scale(0.8990,1)" font-size="43.44">Wavelength (nm)</text>
<text transform="translate(37.95,521.87) rotate(-90) scale(1.0563,1)" font-size="44.86">Absorbance</text>
<rect x="162.6" y="67.8" width="181.0" height="238.4" fill="none" stroke="#000" stroke-width="1.6"/>
<line x1="162.8" y1="97.3" x2="250.9" y2="97.3" stroke="#505050" stroke-width="7.2" stroke-linecap="round"/>
<text transform="translate(260.63,113.99) scale(0.8523,1)" font-size="45.67">80</text>
<text transform="translate(315.01,114.04) scale(0.8722,1)" font-size="45.67">C</text>
<path d="M300.0,88.05a5.9,6.45 0 1,0 11.8,0a5.9,6.45 0 1,0 -11.8,0z M303.7,88.05a2.2,3.7 0 1,0 4.4,0a2.2,3.7 0 1,0 -4.4,0z" fill="#000" fill-rule="evenodd"/>
<line x1="162.8" y1="158.1" x2="250.9" y2="158.1" stroke="#EE4043" stroke-width="7.2" stroke-linecap="round"/>
<text transform="translate(260.63,174.79) scale(0.8523,1)" font-size="45.67">60</text>
<text transform="translate(315.01,174.84) scale(0.8722,1)" font-size="45.67">C</text>
<path d="M300.0,148.85a5.9,6.45 0 1,0 11.8,0a5.9,6.45 0 1,0 -11.8,0z M303.7,148.85a2.2,3.7 0 1,0 4.4,0a2.2,3.7 0 1,0 -4.4,0z" fill="#000" fill-rule="evenodd"/>
<line x1="162.8" y1="218.9" x2="250.9" y2="218.9" stroke="#1B6EE0" stroke-width="7.2" stroke-linecap="round"/>
<text transform="translate(261.41,235.59) scale(0.8523,1)" font-size="45.67">40</text>
<text transform="translate(315.01,235.64) scale(0.8722,1)" font-size="45.67">C</text>
<path d="M300.0,209.65a5.9,6.45 0 1,0 11.8,0a5.9,6.45 0 1,0 -11.8,0z M303.7,209.65a2.2,3.7 0 1,0 4.4,0a2.2,3.7 0 1,0 -4.4,0z" fill="#000" fill-rule="evenodd"/>
<line x1="162.8" y1="279.7" x2="250.9" y2="279.7" stroke="#37AC69" stroke-width="7.2" stroke-linecap="round"/>
<text transform="translate(260.24,296.84) scale(0.8523,1)" font-size="45.67">25</text>
<text transform="translate(315.01,296.44) scale(0.8722,1)" font-size="45.67">C</text>
<path d="M300.0,270.45a5.9,6.45 0 1,0 11.8,0a5.9,6.45 0 1,0 -11.8,0z M303.7,270.45a2.2,3.7 0 1,0 4.4,0a2.2,3.7 0 1,0 -4.4,0z" fill="#000" fill-rule="evenodd"/>
</svg></body></html>
